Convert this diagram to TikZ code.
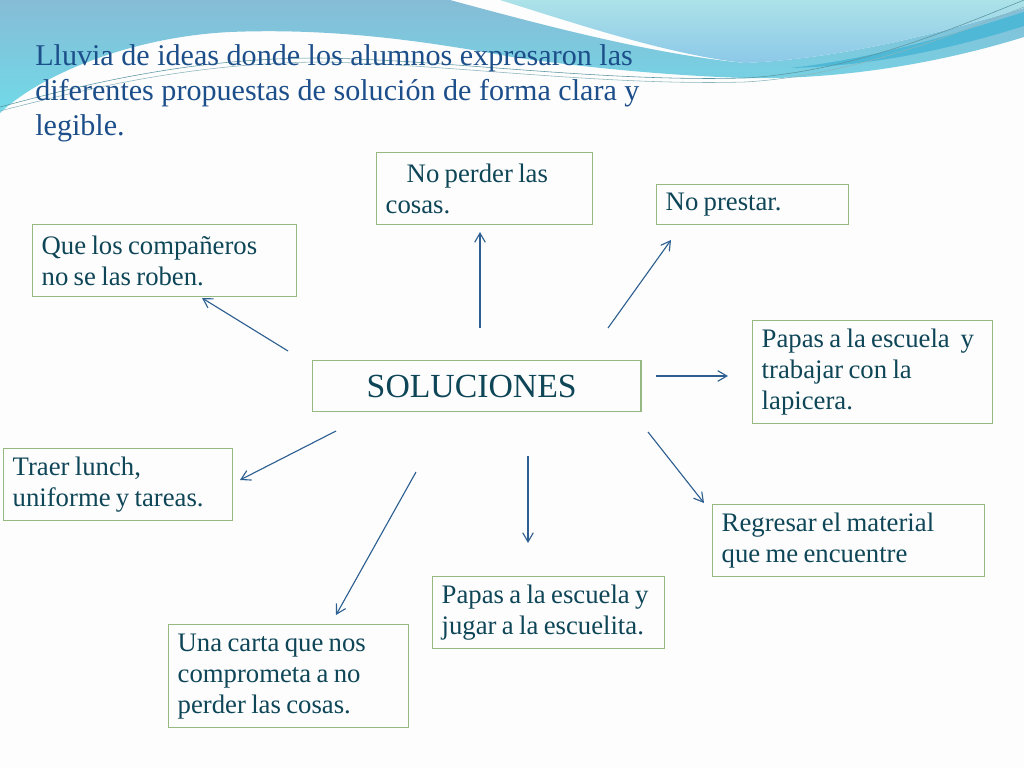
\documentclass[tikz,border=0pt]{standalone}
\usepackage{fontspec}
\setmainfont{Liberation Serif}
\usetikzlibrary{arrows.meta}
\definecolor{boxgreen}{RGB}{150,185,130}
\definecolor{inkteal}{RGB}{14,70,88}
\definecolor{titleblue}{RGB}{28,78,138}
\definecolor{arrowblue}{RGB}{45,95,145}
\definecolor{pagebg}{RGB}{253,253,253}
\definecolor{waveblue}{RGB}{134,188,214}
\definecolor{wavecyan}{RGB}{112,218,232}
\definecolor{skylight}{RGB}{172,226,232}
\definecolor{skyblue}{RGB}{140,200,232}
\definecolor{banddeep}{RGB}{78,184,214}
\definecolor{wireteal}{RGB}{90,150,160}
\tikzset{
  idea/.style={draw=boxgreen,line width=1pt,text=inkteal,align=flush left,anchor=north west,
    inner xsep=0.225cm,font=\fontsize{19}{22}\selectfont,
    execute at begin node={\spaceskip=0.2em plus 0.1em minus 0.05em\relax}},
  arr/.style={draw=arrowblue,line width=0.8pt,-{Straight Barb[length=6.5pt,width=7.5pt]}}
}
\begin{document}
\begin{tikzpicture}[x=0.025cm,y=-0.025cm]
\useasboundingbox (0,0) rectangle (1024,768);
% page and the waves at the top
\fill[pagebg] (0,0) rectangle (1024,768);
\shade[top color=waveblue,bottom color=wavecyan]
  (0,0) -- (450,0) .. controls (560,30) and (660,55) .. (745,63)
  .. controls (850,58) and (950,30) .. (1024,8) -- (1024,37)
  .. controls (950,60) and (850,80) .. (745,78)
  .. controls (650,75) and (560,64) .. (512,57)
  .. controls (420,40) and (330,28) .. (230,32)
  .. controls (130,37) and (40,75) .. (0,113) -- cycle;
\shade[top color=skylight,bottom color=skyblue]
  (500,0) .. controls (580,25) and (670,55) .. (745,63)
  .. controls (850,58) and (950,30) .. (1024,8) -- (1024,0) -- cycle;
\fill[banddeep] (790,68) .. controls (880,58) and (960,32) .. (1024,12) -- (1024,26)
  .. controls (960,46) and (880,66) .. (790,68) -- cycle;
\draw[wireteal,line width=0.4pt]
  (0,107) .. controls (100,80) and (200,58) .. (320,58)
  .. controls (450,60) and (600,82) .. (745,78)
  .. controls (850,72) and (950,30) .. (1024,0);
\draw[wireteal!70,line width=0.4pt]
  (0,111) .. controls (100,85) and (200,63) .. (320,62)
  .. controls (450,64) and (600,86) .. (745,82)
  .. controls (850,76) and (950,36) .. (1024,7);
% title
\node[anchor=north west,inner sep=0pt,align=left,text=titleblue,
  font=\fontsize{21.4}{24.9}\selectfont] (lluvia) at (35,44)
  {Lluvia de ideas donde los alumnos expresaron las\\diferentes propuestas de soluci\'on de forma clara y\\legible.};
% centre and ideas
\node[draw=boxgreen,line width=1pt,text=inkteal,anchor=north west,minimum width=8.2cm,
  minimum height=1.275cm,font=\fontsize{24}{28}\selectfont] (sol) at (312,360)
  {SOLUCIONES\hspace*{0.25cm}};
\node[idea,text width=4.95cm,minimum height=1.8cm] (perder) at (376,152)
  {\hspace*{0.525cm}No perder las\\cosas.};
\node[idea,text width=4.35cm,minimum height=1cm] (prestar) at (656,184) {No prestar.};
\node[idea,text width=6.15cm,minimum height=1.8cm] (roben) at (32,224)
  {Que los compa\~neros\\no se las roben.};
\node[idea,text width=5.55cm,minimum height=2.575cm] (lapicera) at (752,320)
  {Papas a la escuela\ \ y\\trabajar con la\\lapicera.};
\node[idea,text width=5.275cm,minimum height=1.8cm] (lunch) at (3,448)
  {Traer lunch,\\uniforme y tareas.};
\node[idea,text width=6.35cm,minimum height=1.8cm] (material) at (712,504)
  {Regresar el material\\que me encuentre};
\node[idea,text width=5.35cm,minimum height=1.8cm] (escuelita) at (432,576)
  {Papas a la escuela y\\jugar a la escuelita.};
\node[idea,text width=5.55cm,minimum height=2.575cm] (carta) at (168,624)
  {Una carta que nos\\comprometa a no\\perder las cosas.};
% arrow ends
\coordinate (perder0) at (480,328);   \coordinate (perder1) at (480,232);
\coordinate (prestar0) at (608,328);  \coordinate (prestar1) at (671,240);
\coordinate (roben0) at (288,351);    \coordinate (roben1) at (202,298);
\coordinate (lapicera0) at (656,376); \coordinate (lapicera1) at (728,376);
\coordinate (lunch0) at (336,431);    \coordinate (lunch1) at (240,480);
\coordinate (carta0) at (416,472);    \coordinate (carta1) at (336,615);
\coordinate (escuelita0) at (528,456);\coordinate (escuelita1) at (528,543);
\coordinate (material0) at (648,432); \coordinate (material1) at (704,503);
\foreach \t in {perder,prestar,roben,lapicera,lunch,carta,escuelita,material}
  \draw[arr] (\t0) -- (\t1);
\end{tikzpicture}
\end{document}
